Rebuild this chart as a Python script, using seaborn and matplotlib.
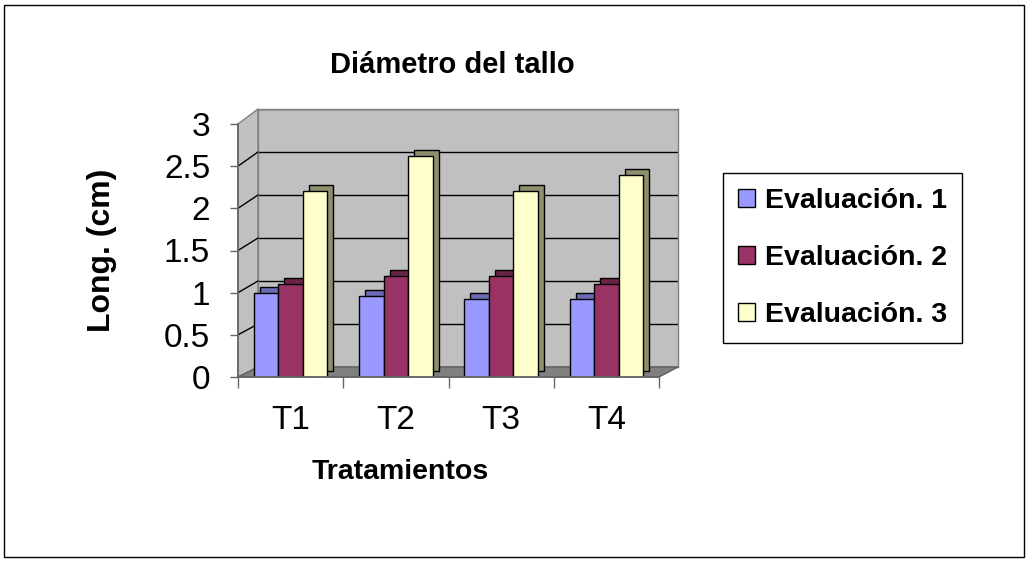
import matplotlib
matplotlib.use("Agg")
import matplotlib.pyplot as plt
import matplotlib.patheffects as pe
from matplotlib.patches import Rectangle, Polygon
from matplotlib.lines import Line2D
import seaborn as sns
import pandas as pd

categories = ["T1", "T2", "T3", "T4"]
series_names = ["Evaluación. 1", "Evaluación. 2", "Evaluación. 3"]
eval1 = [1.0, 0.96, 0.93, 0.93]
eval2 = [1.1, 1.2, 1.2, 1.1]
eval3 = [2.2, 2.62, 2.2, 2.4]
y_ticks = [0, 0.5, 1, 1.5, 2, 2.5, 3]
y_tick_labels = ["0", "0.5", "1", "1.5", "2", "2.5", "3"]

face_colors = ["#9999FF", "#993366", "#FFFFCC"]
side_colors = ["#6B6BB3", "#6B2447", "#8F8F70"]

df = pd.DataFrame({
    "Tratamiento": categories * 3,
    "Serie": sum([[s] * len(categories) for s in series_names], []),
    "Valor": eval1 + eval2 + eval3,
})

sns.set_theme(style="white")
plt.rcParams["font.family"] = ["Liberation Sans", "DejaVu Sans"]
for k in ["text.color", "axes.labelcolor", "xtick.color", "ytick.color"]:
    plt.rcParams[k] = "black"

W, H = 1029, 561
fig = plt.figure(figsize=(W / 100, H / 100), dpi=100)
fig.patch.set_facecolor("white")
fig.patches.append(Rectangle((4 / W, 4 / H), 1020 / W, 552 / H, transform=fig.transFigure,
                             fill=False, edgecolor="black", linewidth=1, zorder=3))

# back wall (depth-shifted copy of the value scale)
axb = fig.add_axes([258 / W, (H - 367) / H, 420 / W, 258 / H])
axb.set_zorder(0)
axb.set_facecolor("#C0C0C0")
axb.set_ylim(0, 3)
axb.set_yticks(y_ticks)
axb.set_xticks([])
axb.yaxis.grid(True, color="black", linewidth=1)
axb.tick_params(left=False, labelleft=False)
for s in axb.spines.values():
    s.set_color("#808080")
    s.set_linewidth(1)

# front axes with the bars
ax = fig.add_axes([238 / W, (H - 377) / H, 421 / W, 253 / H])
ax.set_zorder(2)
ax.patch.set_alpha(0)

sns.barplot(data=df, x="Tratamiento", y="Valor", hue="Serie", hue_order=series_names,
            palette=face_colors, width=0.7, saturation=1, edgecolor="black",
            linewidth=1, ax=ax, legend=True)

for cont, side in zip(ax.containers, side_colors):
    for bar in cont:
        bar.set_path_effects([
            pe.PathPatchEffect(offset=(4.3, 4.3), facecolor=side, edgecolor="black", linewidth=1),
            pe.Normal(),
        ])

ax.set_ylim(0, 3)
ax.set_xlim(-0.5, 3.5)
ax.set_yticks(y_ticks)
ax.set_yticklabels(y_tick_labels)
ax.grid(False)
for s in ["top", "right"]:
    ax.spines[s].set_visible(False)
ax.spines["left"].set_color("#666666")
ax.spines["bottom"].set_color("#666666")

ax.tick_params(axis="y", which="major", length=6, width=1, color="#666666", pad=14,
               labelsize=24, left=True)
ax.set_xticks([-0.5, 0.5, 1.5, 2.5, 3.5], minor=True)
ax.tick_params(axis="x", which="minor", length=8, width=1, color="#666666", bottom=True)
ax.tick_params(axis="x", which="major", length=0, pad=20, labelsize=24)

# side wall and floor, joining the front scale to the back wall
fig.canvas.draw()
inv = fig.transFigure.inverted()
def fpt(trans, x, y):
    return inv.transform(trans.transform((x, y)))

f0 = fpt(ax.transAxes, 0, 0); f1 = fpt(ax.transAxes, 0, 1); f2 = fpt(ax.transAxes, 1, 0)
b0 = fpt(axb.transAxes, 0, 0); b1 = fpt(axb.transAxes, 0, 1); b2 = fpt(axb.transAxes, 1, 0)
fig.patches.append(Polygon([f0, b0, b1, f1], closed=True, transform=fig.transFigure,
                           facecolor="#C0C0C0", edgecolor="#808080", linewidth=1, zorder=1))
fig.patches.append(Polygon([f0, b0, b2, f2], closed=True, transform=fig.transFigure,
                           facecolor="#808080", edgecolor="#606060", linewidth=1, zorder=1))
for yv in y_ticks[1:-1]:
    p = fpt(ax.transData, -0.5, yv)
    q = fpt(axb.transData, 0, yv)
    q[0] = b0[0]
    fig.lines.append(Line2D([p[0], q[0]], [p[1], q[1]], transform=fig.transFigure,
                            color="black", linewidth=1, zorder=1.5))

ax.set_ylabel("Long. (cm)", fontsize=23, fontweight="bold")
ax.yaxis.set_label_coords(-0.287, 0.5)
ax.set_xlabel("Tratamientos", fontsize=20.5, fontweight="bold")
ax.xaxis.set_label_coords(0.385, -0.323)

fig.text(452 / W, 1 - 65 / H, "Diámetro del tallo", fontsize=21, fontweight="bold",
         ha="center", va="center")

leg = ax.legend(loc="upper left", bbox_to_anchor=(723 / W, 1 - 173 / H),
                bbox_transform=fig.transFigure, borderaxespad=0, fancybox=False,
                frameon=True, edgecolor="black", framealpha=1,
                prop={"size": 20.5, "weight": "bold"}, labelspacing=1.1,
                handlelength=0.6, handleheight=0.6, handletextpad=0.35,
                borderpad=0.52, title=None)
leg.get_frame().set_linewidth(1)
for h in leg.legend_handles:
    h.set_path_effects([])

fig.savefig("out.png", dpi=100)
